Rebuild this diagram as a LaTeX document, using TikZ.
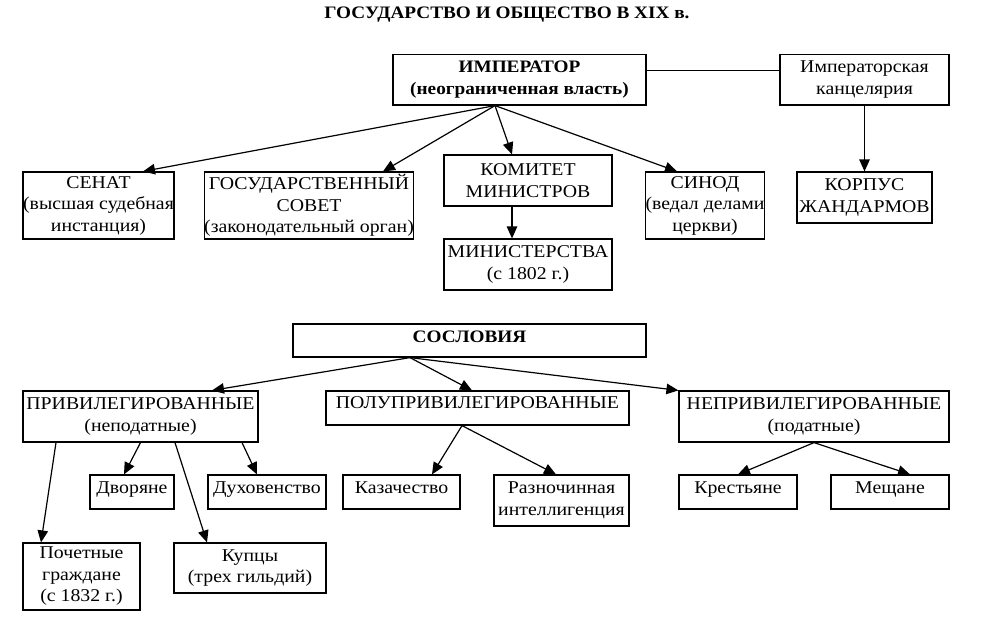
\documentclass[tikz,border=0pt]{standalone}
\usepackage{fontspec}
\setmainfont{Liberation Serif}[FakeStretch=1.1]
\usetikzlibrary{arrows.meta}
\begin{document}
\begin{tikzpicture}[x=1pt,y=-1pt,
  box/.style={draw, line width=1.2pt, inner sep=0pt, align=center,
    font=\fontsize{18}{21.5}\selectfont},
  arr/.style={line width=1.2pt, -{Triangle[length=12pt,width=10.5pt]}},
  plain/.style={line width=1.2pt}]
\useasboundingbox (0,0) rectangle (981,622);
\fill[white] (0,0) rectangle (981,622);
\node[font=\fontsize{17.5}{20}\selectfont\bfseries] (title) at (507,15) {ГОСУДАРСТВО И ОБЩЕСТВО В XIX в.};

\node[box, font=\fontsize{17.5}{21.5}\selectfont\bfseries, minimum width=253pt, minimum height=50.5pt] (emp) at (519.5,79.75) {ИМПЕРАТОР\\(неограниченная власть)};
\node[box, minimum width=169pt, minimum height=50.5pt] (kanc) at (864.5,79.75) {Императорская\\канцелярия};
\node[box, minimum width=135pt, minimum height=51pt] (korpus) at (864.5,197.5) {КОРПУС\\ЖАНДАРМОВ};
\node[box, minimum width=151pt, minimum height=67pt] (senat) at (98.5,205.5) {СЕНАТ\\(высшая судебная\\инстанция)};
\node[box, minimum width=202pt, minimum height=67pt] (gsovet) at (309,205.5) {ГОСУДАРСТВЕННЫЙ\\СОВЕТ\\(законодательный орган)};
\node[box, minimum width=168pt, minimum height=51pt] (komitet) at (528,180.5) {КОМИТЕТ\\МИНИСТРОВ};
\node[box, minimum width=168pt, minimum height=51pt] (minist) at (528,264.5) {МИНИСТЕРСТВА\\(с 1802 г.)};
\node[box, minimum width=118pt, minimum height=67pt] (sinod) at (705,205.5) {СИНОД\\(ведал делами\\церкви)};

\draw[plain] ([yshift=9pt]emp.east) -- ([yshift=9pt]kanc.west);
\draw[arr] (kanc.south) -- (korpus.north);
\coordinate (empsrc) at ([xshift=-24.5pt]emp.south);
\draw[arr] (empsrc) -- ([xshift=44.5pt]senat.north);
\draw[arr] (empsrc) -- ([xshift=74pt]gsovet.north);
\draw[arr] (empsrc) -- ([xshift=-16pt]komitet.north);
\draw[arr] (empsrc) -- ([xshift=-28pt]sinod.north);
\draw[arr] ([xshift=-16pt]komitet.south) -- ([xshift=-16pt]minist.north);

\node[box, font=\fontsize{17.5}{21}\selectfont\bfseries, text height=12pt, text depth=9pt, minimum width=353pt, minimum height=33pt] (sosl) at (469.5,340.5) {СОСЛОВИЯ};
\node[box, minimum width=235pt, minimum height=51pt] (priv) at (140.5,416.5) {ПРИВИЛЕГИРОВАННЫЕ\\(неподатные)};
\node[box, text height=12pt, text depth=12pt, minimum width=303pt, minimum height=34pt] (polu) at (477.5,408) {ПОЛУПРИВИЛЕГИРОВАННЫЕ};
\node[box, minimum width=270pt, minimum height=51pt] (nepriv) at (814,416.5) {НЕПРИВИЛЕГИРОВАННЫЕ\\(податные)};
\node[box, text height=12pt, text depth=10pt, minimum width=84pt, minimum height=34pt] (dvor) at (132,492) {Дворяне};
\node[box, text height=12pt, text depth=10pt, minimum width=118pt, minimum height=34pt] (duhov) at (267,492) {Духовенство};
\node[box, text height=12pt, text depth=10pt, minimum width=117pt, minimum height=34pt] (kazach) at (401.5,492) {Казачество};
\node[box, minimum width=135pt, minimum height=51pt] (razn) at (561.5,500.5) {Разночинная\\интеллигенция};
\node[box, text height=12pt, text depth=10pt, minimum width=118pt, minimum height=34pt] (krest) at (738,492) {Крестьяне};
\node[box, text height=12pt, text depth=10pt, minimum width=118pt, minimum height=34pt] (mesh) at (890,492) {Мещане};
\node[box, minimum width=117pt, minimum height=67pt] (pochet) at (81.5,576.5) {Почетные\\граждане\\(с 1832 г.)};
\node[box, minimum width=152pt, minimum height=50pt] (kupcy) at (250,568) {Купцы\\(трех гильдий)};

\coordinate (sossrc) at ([xshift=-59.5pt]sosl.south);
\draw[arr] (sossrc) -- ([xshift=71.5pt]priv.north);
\draw[arr] (sossrc) -- ([xshift=-5.5pt]polu.north);
\draw[arr] (sossrc) -- (nepriv.north west);
\draw[arr] ([xshift=-84.5pt]priv.south) -- ([xshift=-40.5pt]pochet.north);
\draw[arr] (priv.south) -- ([xshift=-8pt]dvor.north);
\draw[arr] ([xshift=34.5pt]priv.south) -- ([xshift=-43pt]kupcy.north);
\draw[arr] ([xshift=101.5pt]priv.south) -- ([xshift=-10pt]duhov.north);
\coordinate (polusrc) at ([xshift=-15.5pt]polu.south);
\draw[arr] (polusrc) -- ([xshift=30.5pt]kazach.north);
\draw[arr] (polusrc) -- ([xshift=-5.5pt]razn.north);
\draw[arr] (nepriv.south) -- (krest.north);
\draw[arr] (nepriv.south) -- ([xshift=20pt]mesh.north);
\end{tikzpicture}
\end{document}
